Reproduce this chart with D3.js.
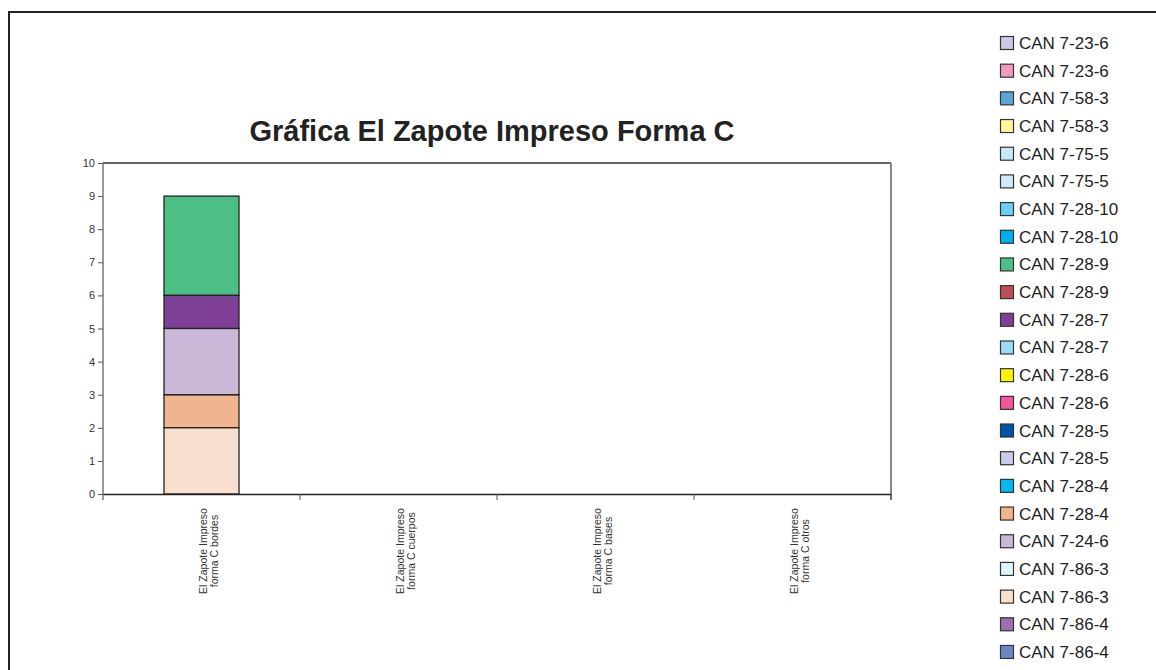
<!DOCTYPE html>
<html>
<head>
<meta charset="utf-8">
<script src="https://cdn.jsdelivr.net/npm/d3@7"></script>
<style>
  body { margin: 0; background: #fff; }
  text { font-family: "Liberation Sans", Arial, sans-serif; }
</style>
</head>
<body>
<div class="chart"></div>
<script>
var width = 1156, height = 670

// categories (x axis), two text lines each
var categories = ["bordes", "cuerpos", "bases", "otros"]
var categoryLines = [
    ["El Zapote Impreso", "forma C bordes"],
    ["El Zapote Impreso", "forma C cuerpos"],
    ["El Zapote Impreso", "forma C bases"],
    ["El Zapote Impreso", "forma C otros"]
]

// series as listed in the legend (top to bottom)
var seriesNames = ["CAN 7-23-6", "CAN 7-23-6", "CAN 7-58-3", "CAN 7-58-3", "CAN 7-75-5", "CAN 7-75-5",
    "CAN 7-28-10", "CAN 7-28-10", "CAN 7-28-9", "CAN 7-28-9", "CAN 7-28-7", "CAN 7-28-7",
    "CAN 7-28-6", "CAN 7-28-6", "CAN 7-28-5", "CAN 7-28-5", "CAN 7-28-4", "CAN 7-28-4",
    "CAN 7-24-6", "CAN 7-86-3", "CAN 7-86-3", "CAN 7-86-4", "CAN 7-86-4"]
var seriesColors = ["#d0c8e2", "#f49ac1", "#5ba3d4", "#fff799", "#c9e9f7", "#cfebf8",
    "#6bcff6", "#00aeef", "#4ebf84", "#be4b57", "#7e3f96", "#9adbf7",
    "#fff200", "#f2569b", "#0054a6", "#c8cce8", "#00b9f1", "#f0b48e",
    "#cbb7d8", "#e2f4fb", "#f9dfcd", "#9c6db0", "#6f85c3"]

// values per category, one per series (same order as seriesNames)
var bordes  = [0,0,0,0,0,0, 0,0,3,0,1,0, 0,0,0,0,0,1, 2,0,2,0,0]
var cuerpos = [0,0,0,0,0,0, 0,0,0,0,0,0, 0,0,0,0,0,0, 0,0,0,0,0]
var bases   = [0,0,0,0,0,0, 0,0,0,0,0,0, 0,0,0,0,0,0, 0,0,0,0,0]
var otros   = [0,0,0,0,0,0, 0,0,0,0,0,0, 0,0,0,0,0,0, 0,0,0,0,0]

// stacking order, bottom to top (series index)
var stackOrder = [22, 21, 20, 19, 17, 18, 16, 15, 14, 13, 12, 11, 10, 9, 8, 7, 6, 5, 4, 3, 2, 1, 0]

var yTicks = [0, 1, 2, 3, 4, 5, 6, 7, 8, 9, 10]

var chartTitle = "Gráfica El Zapote Impreso Forma C"

function drawGraph() {
    var columns = [bordes, cuerpos, bases, otros]
    var rows = categories.map(function(c, i) {
        var r = { category: c }
        seriesNames.forEach(function(n, s) { r[s] = columns[i][s] })
        return r
    })
    var keys = seriesNames.map(function(n, s) { return s })

    var stacked = d3.stack()
        .keys(keys)
        .order(function() { return stackOrder })(rows)

    var svg = d3.select('.chart')
        .append('svg')
        .attr('width', width)
        .attr('height', height)

    // outer frame (left and top edges visible)
    svg.append('path')
        .attr('d', 'M9,' + height + 'V12H' + width)
        .attr('fill', 'none')
        .attr('stroke', '#222')
        .attr('stroke-width', 2)

    var plot = { left: 103, right: 891, top: 163, bottom: 494 }

    var x = d3.scaleBand()
        .domain(categories)
        .range([plot.left, plot.right])

    var y = d3.scaleLinear()
        .domain([0, 10])
        .range([plot.bottom, plot.top])

    // title
    svg.append('text')
        .attr('x', 492)
        .attr('y', 141)
        .attr('text-anchor', 'middle')
        .style('font-size', '29px')
        .style('font-weight', 'bold')
        .attr('fill', '#222')
        .text(chartTitle)

    // plot area border: top and right
    svg.append('line')
        .attr('x1', plot.left).attr('x2', plot.right)
        .attr('y1', plot.top).attr('y2', plot.top)
        .attr('stroke', '#333').attr('stroke-width', 1.5)
    svg.append('line')
        .attr('x1', plot.right).attr('x2', plot.right)
        .attr('y1', plot.top).attr('y2', plot.bottom + 6)
        .attr('stroke', '#888').attr('stroke-width', 2)

    // bars
    var barWidth = 75
    svg.append('g')
        .selectAll('g')
        .data(stacked)
        .enter()
        .append('g')
        .attr('fill', function(d) { return seriesColors[d.key] })
        .selectAll('rect')
        .data(function(d) { return d.filter(function(p) { return p[1] - p[0] > 0 }) })
        .enter()
        .append('rect')
        .attr('x', function(d) { return x(d.data.category) + x.bandwidth() / 2 - barWidth / 2 })
        .attr('width', barWidth)
        .attr('y', function(d) { return y(d[1]) })
        .attr('height', function(d) { return y(d[0]) - y(d[1]) })
        .attr('stroke', '#222')
        .attr('stroke-width', 1.3)

    // y axis
    var yAxis = svg.append('g')
        .attr('transform', 'translate(' + plot.left + ',0)')
        .call(d3.axisLeft(y).tickValues(yTicks).tickSize(5).tickPadding(3))
    yAxis.select('.domain').attr('stroke', '#777').attr('stroke-width', 1.5)
        .attr('d', 'M0,' + plot.top + 'V' + (plot.bottom + 6))
    yAxis.selectAll('.tick line').attr('stroke', '#555')
    yAxis.selectAll('.tick text')
        .style('font-size', '11px')
        .style('font-family', '"Liberation Sans", Arial, sans-serif')
        .attr('fill', '#333')

    // x axis
    var xAxis = svg.append('g')
        .attr('transform', 'translate(0,' + plot.bottom + ')')
        .call(d3.axisBottom(x).tickValues([]).tickSizeOuter(0))
    xAxis.select('.domain').attr('stroke', '#222').attr('stroke-width', 1.5)

    // category separator ticks
    svg.append('g')
        .selectAll('line')
        .data(categories)
        .enter()
        .append('line')
        .attr('x1', function(d) { return x(d) + x.bandwidth() })
        .attr('x2', function(d) { return x(d) + x.bandwidth() })
        .attr('y1', plot.bottom)
        .attr('y2', plot.bottom + 6)
        .attr('stroke', '#555')

    // rotated category labels
    var labels = svg.append('g')
        .selectAll('text')
        .data(categories)
        .enter()
        .append('text')
        .attr('transform', function(d) {
            return 'translate(' + (x(d) + x.bandwidth() / 2 + 5) + ',551) rotate(-90)'
        })
        .attr('text-anchor', 'middle')
        .style('font-size', '10.5px')
        .attr('fill', '#333')
    labels.selectAll('tspan')
        .data(function(d, i) { return categoryLines[i] })
        .enter()
        .append('tspan')
        .attr('x', 0)
        .attr('dy', function(d, i) { return i == 0 ? 0 : 11 })
        .text(function(d) { return d })

    // legend
    var legend = svg.append('g')
        .selectAll('g')
        .data(seriesNames)
        .enter()
        .append('g')
        .attr('transform', function(d, i) { return 'translate(1000,' + (43 + i * 27.68) + ')' })
    legend.append('rect')
        .attr('x', 0.5).attr('y', -6.5)
        .attr('width', 13).attr('height', 13)
        .attr('fill', function(d, i) { return seriesColors[i] })
        .attr('stroke', '#333')
        .attr('stroke-width', 1.2)
    legend.append('text')
        .attr('x', 19)
        .attr('y', 6)
        .style('font-size', '17px')
        .attr('fill', '#222')
        .text(function(d) { return d })
}

drawGraph()
</script>
</body>
</html>
